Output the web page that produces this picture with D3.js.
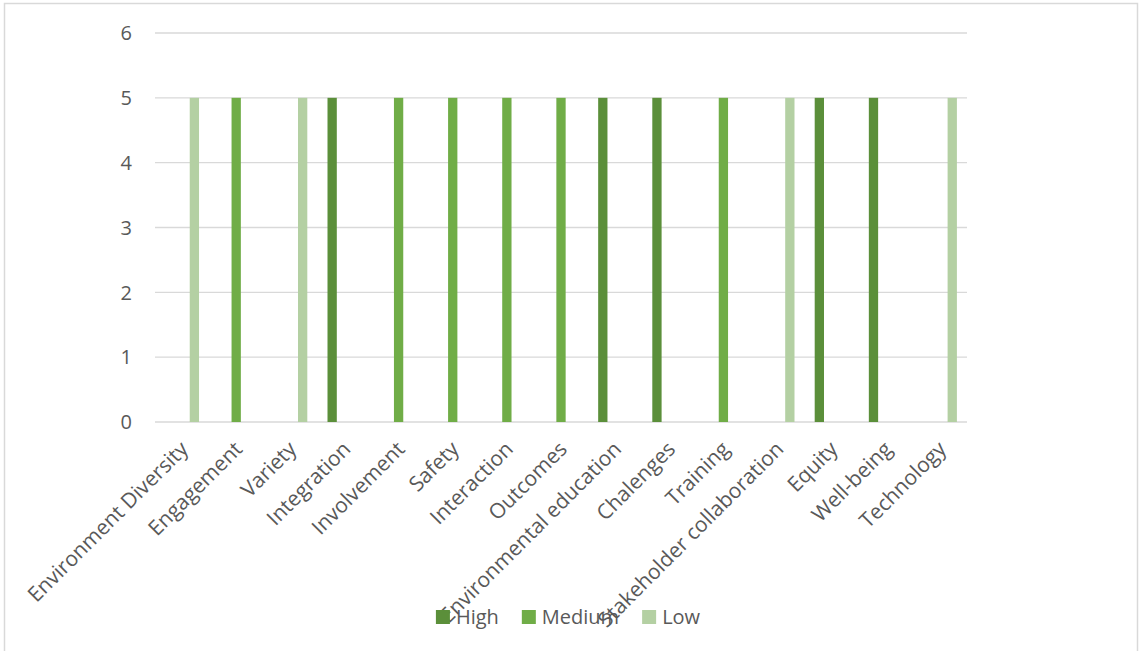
<!DOCTYPE html>
<html>
<head>
  <meta charset="utf-8">
  <script src="https://d3js.org/d3.v7.min.js"></script>
  <style>
    body { margin: 0; background: #fff; }
    text { font-family: "Open Sans", sans-serif; fill: #595959; }
  </style>
</head>
<body>
<script>
  // categories and series
  var categories = ["Environment Diversity", "Engagement", "Variety", "Integration", "Involvement",
    "Safety", "Interaction", "Outcomes", "Environmental education", "Chalenges", "Training",
    "Stakeholder collaboration", "Equity", "Well-being", "Technology"];
  var seriesNames = ["High", "Medium", "Low"];
  var highValues   = [0, 0, 0, 5, 0, 0, 0, 0, 5, 5, 0, 0, 5, 5, 0];
  var mediumValues = [0, 5, 0, 0, 5, 5, 5, 5, 0, 0, 5, 0, 0, 0, 0];
  var lowValues    = [5, 0, 5, 0, 0, 0, 0, 0, 0, 0, 0, 5, 0, 0, 5];
  var yTicks = [0, 1, 2, 3, 4, 5, 6];
  var colors = ["#5B8F3A", "#70AD47", "#B4D0A3"];

  var W = 1140, H = 651;
  var plot = {left: 155, right: 967, top: 33, bottom: 422};

  var svg = d3.select("body").append("svg")
      .attr("width", W).attr("height", H);

  // outer frame
  svg.append("rect")
      .attr("x", 4.5).attr("y", 3.5)
      .attr("width", 1133).attr("height", 660)
      .attr("fill", "none").attr("stroke", "#d9d9d9").attr("stroke-width", 1.5);

  var x0 = d3.scaleBand().domain(categories).range([plot.left, plot.right]);
  var x1 = d3.scaleBand().domain(seriesNames).range([0, x0.bandwidth()])
      .paddingInner(0.245).paddingOuter(0.82);
  var y = d3.scaleLinear().domain([0, 6]).range([plot.bottom, plot.top]);

  // gridlines
  svg.append("g").selectAll("line")
    .data(yTicks).enter().append("line")
      .attr("x1", plot.left).attr("x2", plot.right)
      .attr("y1", function (d) { return y(d); })
      .attr("y2", function (d) { return y(d); })
      .attr("stroke", "#d9d9d9").attr("stroke-width", 1.3);

  // y labels
  svg.append("g").selectAll("text")
    .data(yTicks).enter().append("text")
      .attr("x", 132)
      .attr("y", function (d) { return y(d); })
      .attr("dy", "0.36em")
      .attr("text-anchor", "end")
      .style("font-size", "20px")
      .text(function (d) { return d; });

  var allValues = [highValues, mediumValues, lowValues];
  var rows = [];
  categories.forEach(function (c, i) {
    seriesNames.forEach(function (s, j) {
      rows.push({cat: c, series: s, value: allValues[j][i], color: colors[j]});
    });
  });

  svg.append("g").selectAll("rect")
    .data(rows.filter(function (d) { return d.value > 0; }))
    .enter().append("rect")
      .attr("x", function (d) { return x0(d.cat) + x1(d.series); })
      .attr("width", x1.bandwidth())
      .attr("y", function (d) { return y(d.value); })
      .attr("height", function (d) { return y(0) - y(d.value); })
      .attr("fill", function (d) { return d.color; });

  // category labels, rotated
  svg.append("g").selectAll("text")
    .data(categories).enter().append("text")
      .attr("transform", function (d) {
        return "translate(" + (x0(d) + x0.bandwidth() / 2 - 3) + "," + (plot.bottom + 18) + ") rotate(-45)";
      })
      .attr("text-anchor", "end")
      .attr("dy", "0.7em")
      .style("font-size", "21px")
      .text(function (d) { return d; });

  // legend
  var legend = svg.append("g");
  var items = legend.selectAll("g").data(seriesNames).enter().append("g");
  items.append("rect")
      .attr("width", 14).attr("height", 14)
      .attr("y", 610)
      .attr("fill", function (d, i) { return colors[i]; });
  items.append("text")
      .attr("x", 20).attr("y", 617).attr("dy", "0.36em")
      .style("font-size", "20px")
      .text(function (d) { return d; });
  var pos = 0, offsets = [];
  items.each(function () {
    offsets.push(pos);
    pos += 20 + d3.select(this).select("text").node().getComputedTextLength() + 23;
  });
  var total = pos - 23;
  var start = 568 - total / 2;
  items.attr("transform", function (d, i) { return "translate(" + (start + offsets[i]) + ",0)"; });
</script>
</body>
</html>
